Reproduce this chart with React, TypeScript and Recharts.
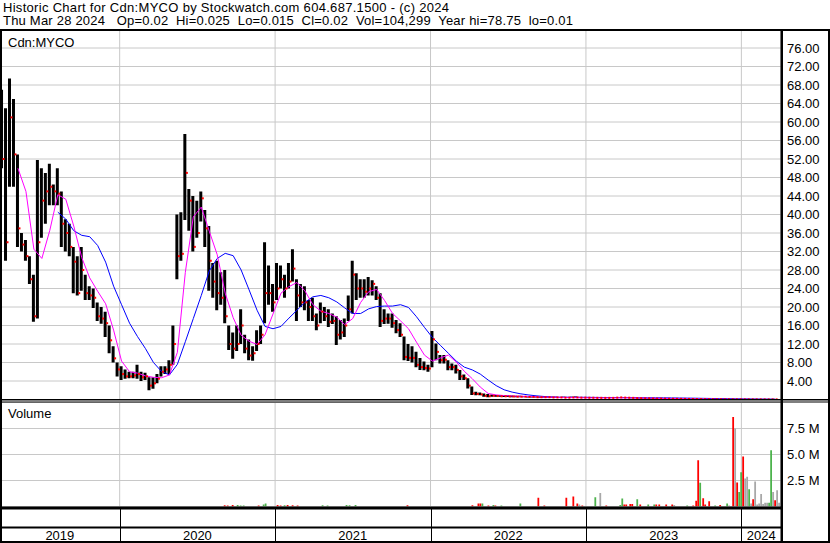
import { ComposedChart, Bar, Line, XAxis, YAxis, CartesianGrid, Cell } from "recharts";

const FONT = "'Liberation Sans', Arial, sans-serif";
const W = 830;
const H = 543;
const PLOT_RIGHT = 781;
const GRID = "#c8c8c8";

const START = 2019.23;
const END = 2024.255;
const FIRST_BAR = 2019.243;
const BARS_PER_YEAR = 39; // one bar ~ 9.4 days

const YEARS = [2019, 2020, 2021, 2022, 2023, 2024];
const PRICE_TICKS = [4, 8, 12, 16, 20, 24, 28, 32, 36, 40, 44, 48, 52, 56, 60, 64, 68, 72, 76];
const VOL_TICKS = [2.5, 5, 7.5];

const high = [
  67, 63, 69.4, 65, 53, 36, 34.5, 31, 27, 51.8,
  50, 49, 51, 46.5, 50, 45, 39, 38, 33, 31,
  33, 27, 24.5, 24, 21, 20, 19, 16, 11.5, 8,
  7.2, 6.5, 6, 6, 7.5, 6, 5.8, 4.8, 4.8, 5.5,
  7.2, 7.2, 8.5, 16, 40, 40.5, 57.4, 45.5, 44, 43,
  45, 41, 37.5, 29.5, 30, 27.5, 28, 16, 14.5, 16,
  19.5, 14, 13, 11.5, 15, 16, 34, 29, 25, 29.5,
  29, 27, 29.5, 32.5, 26, 25, 24.5, 21.5, 22, 18.6,
  21, 20, 19.5, 18.6, 18, 17.2, 17.5, 22.5, 30, 27.3,
  26, 26, 26.5, 25.8, 24.5, 23, 19.5, 18.6, 18.6, 17.2,
  16.5, 13.6, 12, 11.5, 10.3, 9, 8.2, 7.5, 14.8, 12.1,
  9.6, 9.6, 8.5, 7.8, 7.5, 6.4, 5.4, 4.6, 2.8, 1.7,
  1.5, 1.3, 1.2, 1.1, 1.0, 0.95, 0.9, 0.9, 0.85, 0.8,
  0.8, 0.75, 0.75, 0.7, 0.7, 0.65, 0.65, 0.6, 0.6, 0.6,
  0.55, 0.6, 0.55, 0.6, 0.65, 0.55, 0.5, 0.5, 0.5, 0.48,
  0.48, 0.45, 0.45, 0.45, 0.5, 0.55, 0.55, 0.5, 0.45, 0.42,
  0.4, 0.35, 0.32, 0.3, 0.3, 0.28, 0.25, 0.24, 0.22, 0.2,
  0.2, 0.18, 0.17, 0.16, 0.15, 0.13, 0.12, 0.11, 0.1, 0.09,
  0.08, 0.08, 0.07, 0.07, 0.06, 0.06, 0.05, 0.05, 0.045, 0.04,
  0.035, 0.035, 0.03, 0.03, 0.025,
];

const low = [
  50, 30, 46, 46, 33, 32, 30, 25, 16.8, 17.5,
  35, 38, 42, 42, 42, 33, 32, 31, 23, 22.5,
  23.5, 21.5, 21.5, 19.8, 17, 16.4, 13.5, 10, 8, 5,
  4.2, 4.5, 4.6, 4.6, 4.5, 4, 4.2, 2, 2.3, 3.5,
  5, 5.5, 5.5, 7.5, 26, 30, 38.8, 36.5, 32, 35,
  38.5, 33, 23.5, 22, 19.3, 20.5, 16.5, 10.7, 8.8, 10.5,
  12, 10, 8.5, 8.4, 10.5, 12, 16.5, 20.5, 19, 21.5,
  24, 22, 24, 25.5, 17, 20, 19.3, 17, 17, 15,
  16.5, 17, 15.7, 16.3, 11.8, 13, 13.5, 17, 18.6, 21.5,
  22, 22, 22.5, 22.5, 21.5, 15.7, 16.3, 16.4, 15.5, 14.3,
  13.5, 8.5, 8.3, 8, 7, 6.4, 6.3, 6, 7, 8.5,
  7.8, 7.8, 6.3, 6.3, 5.6, 4.2, 4.2, 2.4, 1, 0.9,
  0.9, 0.6, 0.5, 0.6, 0.6, 0.6, 0.55, 0.55, 0.5, 0.5,
  0.5, 0.5, 0.45, 0.45, 0.45, 0.4, 0.4, 0.4, 0.4, 0.35,
  0.35, 0.35, 0.35, 0.35, 0.35, 0.35, 0.3, 0.3, 0.3, 0.3,
  0.3, 0.3, 0.3, 0.3, 0.3, 0.3, 0.3, 0.3, 0.28, 0.25,
  0.22, 0.2, 0.2, 0.18, 0.16, 0.15, 0.14, 0.13, 0.12, 0.12,
  0.1, 0.1, 0.09, 0.08, 0.07, 0.06, 0.06, 0.05, 0.05, 0.05,
  0.04, 0.04, 0.035, 0.03, 0.03, 0.025, 0.025, 0.02, 0.02, 0.02,
  0.015, 0.015, 0.015, 0.015, 0.015,
];

const close = [
  52, 34, 61, 53, 37, 33.5, 31, 26, 18, 34,
  43, 45, 46, 45, 44.5, 38, 36, 33, 29.8, 23,
  28, 23, 22.5, 22, 18, 17.5, 16.5, 12.8, 8.9, 6.5,
  5.5, 5, 5, 5.2, 5.5, 4.8, 5, 3, 3.5, 4.5,
  6, 6.5, 7.5, 12, 31, 31.5, 49, 43, 33, 36,
  43.5, 37, 30, 25.5, 23, 22, 18, 12, 11, 12,
  16, 11, 9.5, 10, 12, 14, 23, 23, 21, 24,
  26, 24, 25.5, 28.3, 22.5, 21, 21, 20, 18, 16,
  19, 18, 16.8, 17, 14, 14.5, 16, 19.5, 27, 24,
  24, 23.3, 24, 25, 22, 17, 17.5, 17.5, 16.5, 15,
  14, 9.2, 9, 9, 7.5, 7, 6.8, 6.7, 13, 10.3,
  8.5, 8.6, 7, 7, 6.4, 5, 4.6, 3, 1.3, 1.2,
  1.1, 0.8, 0.7, 0.8, 0.75, 0.7, 0.7, 0.65, 0.65, 0.6,
  0.6, 0.6, 0.55, 0.55, 0.5, 0.5, 0.5, 0.5, 0.45, 0.45,
  0.45, 0.4, 0.4, 0.45, 0.45, 0.4, 0.4, 0.38, 0.38, 0.36,
  0.36, 0.35, 0.35, 0.35, 0.4, 0.45, 0.4, 0.38, 0.35, 0.3,
  0.28, 0.25, 0.25, 0.22, 0.2, 0.2, 0.18, 0.17, 0.16, 0.15,
  0.14, 0.13, 0.12, 0.11, 0.1, 0.09, 0.08, 0.07, 0.07, 0.06,
  0.06, 0.05, 0.05, 0.045, 0.04, 0.035, 0.035, 0.03, 0.03, 0.025,
  0.025, 0.02, 0.02, 0.02, 0.02,
];

// moving averages, one value for every second bar
const maFast = [
  null, null, 50, 45, 32.5, 30.5, 36.6, 44.3, 43.3, 37.5,
  30.7, 26.3, 23.4, 20.7, 15, 8.3, 6, 5.7, 5.1, 4.8,
  4.7, 5.3, 10.2, 27.5, 39.5, 41.6, 36.4, 31.3, 23, 17.7,
  13.9, 12.6, 11.9, 14, 18.5, 23, 24.4, 25.3, 23.5, 20.5,
  19.1, 18.6, 17.8, 16.2, 17.5, 21, 23.3, 23.8, 21.4, 18.6,
  17, 15.3, 12.4, 9.6, 8.3, 9, 9.6, 8.1, 6.1, 4.5,
  2.7, 1.3, 1.0, 0.85, 0.75, 0.7, 0.65, 0.6, 0.5, 0.5,
  0.45, 0.42, 0.4, 0.38, 0.36, 0.35, 0.35, 0.36, 0.38, 0.36,
  0.32, 0.28, 0.25, 0.22, 0.2, 0.18, 0.15, 0.12, 0.1, 0.08,
  0.06, 0.05, 0.04, 0.04, 0.03, 0.03, 0.02, 0.02,
];

const maSlow = [
  null, null, null, null, null, null, null, 40.5, 39, 36.5,
  35.5, 35.2, 33.3, 29.7, 24.5, 20.5, 16.5, 13.6, 11, 8,
  6.1, 5.3, 7.6, 12.5, 17.5, 22.5, 27.8, 30.5, 31.6, 31.1,
  28, 23.7, 19.3, 15.8, 15.3, 15.8, 17.6, 19.3, 21, 22.2,
  22.5, 22, 21.1, 19.8, 18.6, 18.6, 19.6, 20.1, 20.2, 20.2,
  20.5, 19.9, 17.9, 15.6, 13.4, 11.7, 10, 8.3, 7, 6.4,
  5.5, 4.2, 3, 2.1, 1.6, 1.25, 1.0, 0.8, 0.65, 0.55,
  0.5, 0.5, 0.5, 0.48, 0.46, 0.44, 0.42, 0.41, 0.4, 0.4,
  0.39, 0.38, 0.37, 0.36, 0.34, 0.32, 0.3, 0.28, 0.25, 0.22,
  0.2, 0.18, 0.16, 0.14, 0.12, 0.1, 0.09, 0.08,
];

const volDate = [
  2020.6762, 2020.6955, 2020.7276, 2020.7597, 2020.779, 2020.7983, 2020.8947, 2020.9269, 2020.9397,
  2021.0168, 2021.0361, 2021.0618, 2021.0811, 2021.1133, 2021.1454, 2021.3061, 2021.3382, 2021.4603, 2021.4796, 2021.5182, 2021.8524,
  2022.2702, 2022.3088, 2022.3216, 2022.3345, 2022.373, 2022.4052, 2022.418, 2022.4566, 2022.5787, 2022.6944, 2022.733, 2022.8744, 2022.9194, 2022.9451, 2022.958, 2022.9772,
  2023.0608, 2023.0929, 2023.1315, 2023.2215, 2023.2343, 2023.2472, 2023.26, 2023.2858, 2023.2986, 2023.3307, 2023.35, 2023.4015, 2023.44, 2023.4529, 2023.4722, 2023.5171, 2023.5557, 2023.5686, 2023.6521, 2023.6907, 2023.71, 2023.7228, 2023.7357, 2023.755, 2023.7678, 2023.7935, 2023.8321, 2023.8642, 2023.9092, 2023.9221, 2023.9478, 2023.9606, 2023.9735, 2023.9864, 2023.9992,
  2024.0121, 2024.0249, 2024.0378, 2024.0506, 2024.0635, 2024.0763, 2024.0892, 2024.102, 2024.1149, 2024.1278, 2024.1406, 2024.1535, 2024.1663, 2024.1792, 2024.192, 2024.2049, 2024.2177, 2024.2306, 2024.2435,
];

// millions of shares
const volume = [
  0.12, 0.1, 0.15, 0.15, 0.1, 0.1, 0.1, 0.2, 0.3,
  0.15, 0.1, 0.12, 0.15, 0.12, 0.1, 0.12, 0.1, 0.15, 0.12, 0.15, 0.12,
  0.12, 0.3, 0.3, 0.3, 0.1, 0.15, 0.1, 0.1, 0.3, 0.85, 0.1, 0.85, 0.95, 0.3, 0.2, 0.1,
  0.9, 1.3, 0.1, 0.15, 0.78, 0.2, 0.2, 0.25, 0.25, 0.7, 0.2, 0.2, 0.2, 0.2, 0.2, 0.2, 0.2, 0.15, 0.1, 0.1, 0.55, 4.45, 2.28, 0.8, 0.2, 0.5, 0.1, 0.15, 0.3, 0.1, 8.6, 7.5, 2.3, 1.4, 3.3,
  4.8, 2.7, 2.85, 1.67, 0.3, 0.7, 2.4, 0.2, 0.3, 1.2, 0.25, 0.35, 0.35, 0.35, 5.4, 1.4, 0.6, 1.57, 0.35,
];

// u = up day, d = down day, n = unchanged
const volDir = [
  "d", "d", "d", "u", "u", "u", "d", "u", "u",
  "d", "d", "u", "d", "d", "d", "u", "u", "u", "u", "u", "d",
  "d", "d", "d", "u", "d", "u", "d", "u", "u", "d", "d", "d", "d", "d", "n", "d",
  "u", "n", "d", "u", "u", "d", "d", "d", "d", "u", "d", "u", "u", "d", "d", "d", "d", "n", "u", "d", "d", "d", "u", "d", "d", "d", "u", "d", "u", "n", "d", "n", "d", "u", "u",
  "d", "n", "n", "u", "n", "d", "n", "n", "n", "n", "n", "n", "n", "u", "u", "n", "d", "n", "n",
];

const DIR_COLORS: Record<string, string> = { u: "#4db34d", d: "#ff0000", n: "#a8a8a8" };

const priceRows = high.map((h, i) => ({
  t: FIRST_BAR + i / BARS_PER_YEAR,
  range: [low[i], h],
  close: close[i],
  fast: i % 2 === 0 ? maFast[i / 2] : null,
  slow: i % 2 === 0 ? maSlow[i / 2] : null,
}));

const volRows = volDate.map((t, i) => ({ t, v: volume[i], dir: volDir[i] }));

const YEAR_STARTS = YEARS.slice(1);
const YEAR_MIDS = YEARS.map((y) => (Math.max(y, START) + Math.min(y + 1, END)) / 2);
const xOf = (t: number) => ((t - START) / (END - START)) * PLOT_RIGHT;

const tickStyle = { fill: "#000", fontSize: 13, fontFamily: FONT };

function CloseMark(props: any) {
  const { cx, cy, index } = props;
  if (cx == null || cy == null) return <g key={index} />;
  return <rect key={index} x={cx + 0.5} y={cy - 1} width={2} height={2} fill="#ff0000" />;
}

export default function App() {
  return (
    <div style={{ position: "fixed", left: 0, top: 0, width: W, height: H, background: "#fff", overflow: "hidden", fontFamily: FONT }}>
      <div style={{ position: "absolute", left: 0, top: 0 }}>
        <ComposedChart width={W} height={400} data={priceRows} margin={{ top: 29.5, right: 0, bottom: 0.5, left: 0 }}>
          <CartesianGrid stroke={GRID} />
          <XAxis dataKey="t" type="number" domain={[START, END]} allowDataOverflow ticks={YEAR_STARTS} height={0} hide />
          <YAxis
            orientation="right"
            width={49}
            domain={[0, 80]}
            allowDataOverflow
            ticks={PRICE_TICKS}
            interval={0}
            tickFormatter={(v: number) => v.toFixed(2)}
            tick={tickStyle}
            tickLine={false}
            axisLine={false}
            tickSize={0}
            tickMargin={6}
          />
          <Bar dataKey="range" barSize={3} fill="#000" isAnimationActive={false} />
          <Line dataKey="slow" stroke="#0000ff" strokeWidth={1} dot={false} connectNulls isAnimationActive={false} />
          <Line dataKey="fast" stroke="#ff00ff" strokeWidth={1} dot={false} connectNulls isAnimationActive={false} />
          <Line dataKey="close" stroke="none" dot={CloseMark} activeDot={false} isAnimationActive={false} />
        </ComposedChart>
      </div>

      <div style={{ position: "absolute", left: 0, top: 400 }}>
        <ComposedChart width={W} height={143} data={volRows} margin={{ top: 2.5, right: 0, bottom: 0, left: 0 }}>
          <CartesianGrid stroke={GRID} />
          <XAxis dataKey="t" type="number" domain={[START, END]} allowDataOverflow ticks={YEAR_STARTS} height={0} hide />
          <XAxis
            xAxisId="yr"
            dataKey="t"
            type="number"
            domain={[START, END]}
            allowDataOverflow
            ticks={YEAR_MIDS}
            interval={0}
            height={36.5}
            tickFormatter={(v: number) => String(Math.floor(v))}
            tick={tickStyle}
            tickLine={false}
            axisLine={false}
            tickSize={0}
            tickMargin={24}
          />
          <YAxis
            orientation="right"
            width={49}
            domain={[0, 10]}
            allowDataOverflow
            ticks={VOL_TICKS}
            interval={0}
            tickFormatter={(v: number) => `${v.toFixed(1)} M`}
            tick={tickStyle}
            tickLine={false}
            axisLine={false}
            tickSize={0}
            tickMargin={6}
          />
          <Bar dataKey="v" barSize={2} isAnimationActive={false}>
            {volRows.map((r, i) => (
              <Cell key={i} fill={DIR_COLORS[r.dir]} />
            ))}
          </Bar>
        </ComposedChart>
      </div>

      <svg width={W} height={H} style={{ position: "absolute", left: 0, top: 0, pointerEvents: "none" }}>
        <g fontFamily={FONT} fontSize={13} fill="#000">
          <text x={3} y={11.5} xmlSpace="preserve" textLength={446} lengthAdjust="spacing">
            Historic Chart for Cdn:MYCO by Stockwatch.com 604.687.1500 - (c) 2024
          </text>
          <text x={3} y={24.5} xmlSpace="preserve" textLength={570} lengthAdjust="spacing">
            {"Thu Mar 28 2024   Op=0.02  Hi=0.025  Lo=0.015  Cl=0.02  Vol=104,299  Year hi=78.75  lo=0.01"}
          </text>
          <text x={8} y={46.5}>Cdn:MYCO</text>
          <text x={8} y={418}>Volume</text>
        </g>
        <g fill="#000">
          <rect x={0} y={29} width={W} height={2} />
          <rect x={0} y={29} width={2} height={H - 29} />
          <rect x={W - 2} y={29} width={2} height={H - 29} />
          <rect x={PLOT_RIGHT - 0.5} y={29} width={2.5} height={H - 29} />
          <rect x={0} y={399} width={W} height={1.5} />
          <rect x={0} y={401.5} width={W} height={1} />
          <rect x={0} y={506.5} width={PLOT_RIGHT} height={3} />
          <rect x={0} y={526.5} width={PLOT_RIGHT} height={2} />
          <rect x={0} y={541} width={W} height={2} />
          {YEAR_STARTS.map((y) => (
            <rect key={y} x={Math.round(xOf(y))} y={509} width={1} height={32} />
          ))}
        </g>
      </svg>
    </div>
  );
}
